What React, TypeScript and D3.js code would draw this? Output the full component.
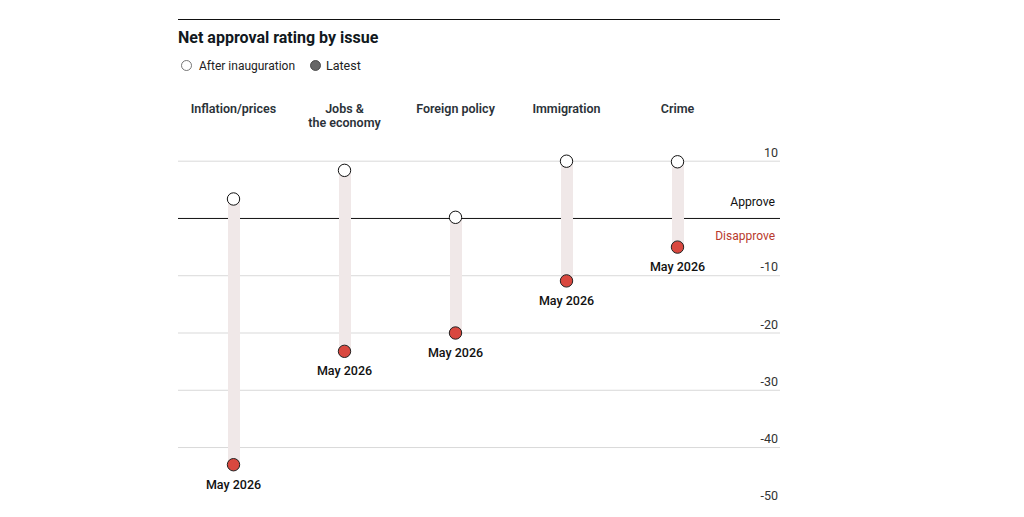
import React from "react";
import * as d3 from "d3";

const issues = ["Inflation/prices", "Jobs &\nthe economy", "Foreign policy", "Immigration", "Crime"];
const afterInauguration = [3.4, 8.4, 0.2, 10, 9.9];
const latest = [-43, -23.2, -20, -10.9, -5];
const yTicks = [10, 0, -10, -20, -30, -40, -50];
const latestLabel = "May 2026";

const width = 1024;
const height = 517;
const font = "Roboto, sans-serif";

const x = d3.scalePoint<string>().domain(issues).range([233.5, 677.5]);
const y = d3.scaleLinear().domain([10, -50]).range([161.2, 504.8]);

const App = () => {
  return (
    <svg
      width={width}
      height={height}
      style={{ position: "absolute", left: 0, top: 0, background: "#fff" }}
      fontFamily={font}
    >
      <line x1={178} x2={780} y1={19.5} y2={19.5} stroke="#111" strokeWidth={1} />
      <text x={178} y={42.5} fontSize={16} fontWeight={700} fill="#111820">
        Net approval rating by issue
      </text>

      {/* legend */}
      <circle cx={186.5} cy={65.5} r={5} fill="#fff" stroke="#555" strokeWidth={0.8} />
      <text x={199} y={70} fontSize={12} fill="#222">After inauguration</text>
      <circle cx={315.5} cy={65.5} r={5} fill="#666" stroke="#333" strokeWidth={0.8} />
      <text x={326} y={70} fontSize={12.5} fill="#222">Latest</text>

      {/* grid */}
      {yTicks.map((t) => (
        <g key={t}>
          {t !== -50 && (
            <line
              x1={178}
              x2={780}
              y1={y(t)}
              y2={y(t)}
              stroke={t === 0 ? "#111" : "#d9d9d9"}
              strokeWidth={1}
            />
          )}
          {t !== 0 && (
            <text x={778} y={y(t) - 4.5} textAnchor="end" fontSize={12.5} fill="#333">
              {t}
            </text>
          )}
        </g>
      ))}
      <text x={775} y={206} textAnchor="end" fontSize={12.2} fill="#111">Approve</text>
      <text x={775} y={240} textAnchor="end" fontSize={12} fill="#b8392c">Disapprove</text>

      {/* columns */}
      {issues.map((issue, i) => {
        const cx = x(issue) as number;
        const lines = issue.split("\n");
        return (
          <g key={issue}>
            <text textAnchor="middle" fontSize={12.5} fontWeight={600} fill="#2b3238">
              {lines.map((l, j) => (
                <tspan key={l} x={cx} y={113 + j * 14}>{l}</tspan>
              ))}
            </text>
            <rect
              x={cx - 5.5}
              width={12}
              y={y(afterInauguration[i])}
              height={y(latest[i]) - y(afterInauguration[i])}
              fill="#f0e8e8"
            />
            <circle cx={cx} cy={y(afterInauguration[i])} r={6.2} fill="#fff" stroke="#111" strokeWidth={1} />
            <circle cx={cx} cy={y(latest[i])} r={6.2} fill="#d9483f" stroke="#222" strokeWidth={1} />
            <text x={cx} y={y(latest[i]) + 24} textAnchor="middle" fontSize={12.5} fontWeight={500} fill="#111">
              {latestLabel}
            </text>
          </g>
        );
      })}
    </svg>
  );
};

export default App;
